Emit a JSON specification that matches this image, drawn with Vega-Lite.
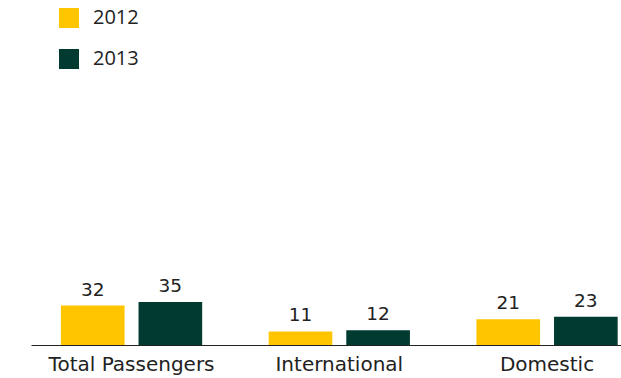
{
  "$schema": "https://vega.github.io/schema/vega-lite/v6.json",
  "width": 590,
  "height": 345,
  "autosize": {"type": "none"},
  "padding": {"left": 31, "top": 0, "right": 0, "bottom": 33},
  "background": "white",
  "config": {
    "view": {"stroke": null},
    "font": "DejaVu Sans"
  },
  "data": {
    "values": [
      {"category": "Total Passengers", "year": "2012", "value": 32},
      {"category": "Total Passengers", "year": "2013", "value": 35},
      {"category": "International", "year": "2012", "value": 11},
      {"category": "International", "year": "2013", "value": 12},
      {"category": "Domestic", "year": "2012", "value": 21},
      {"category": "Domestic", "year": "2013", "value": 23}
    ]
  },
  "encoding": {
    "x": {
      "field": "category",
      "type": "nominal",
      "sort": ["Total Passengers", "International", "Domestic"],
      "scale": {"paddingInner": 0.32, "paddingOuter": 0.08, "align": 0.9},
      "axis": {
        "title": null,
        "labelAngle": 0,
        "ticks": false,
        "domainColor": "#222222",
        "domainWidth": 1.2,
        "labelFontSize": 20,
        "labelColor": "#222222",
        "labelPadding": 9,
        "labelFont": "DejaVu Sans"
      }
    },
    "xOffset": {
      "field": "year",
      "type": "nominal",
      "scale": {"paddingInner": 0.18, "paddingOuter": 0}
    },
    "y": {
      "field": "value",
      "type": "quantitative",
      "scale": {"domain": [0, 280]},
      "axis": null
    }
  },
  "layer": [
    {
      "mark": {"type": "bar"},
      "encoding": {
        "color": {
          "field": "year",
          "type": "nominal",
          "scale": {"domain": ["2012", "2013"], "range": ["#FFC600", "#013A30"]},
          "legend": {
            "title": null,
            "orient": "none",
            "legendX": 28,
            "legendY": 8,
            "padding": 0,
            "symbolType": "square",
            "symbolSize": 400,
            "symbolStrokeWidth": 0,
            "labelFontSize": 20,
            "labelColor": "#222222",
            "labelOffset": 14,
            "rowPadding": 21,
            "labelFont": "Open Sans"
          }
        }
      }
    },
    {
      "mark": {"type": "text", "baseline": "alphabetic", "dy": -10, "fontSize": 18.5, "color": "#222222", "font": "DejaVu Sans"},
      "encoding": {
        "text": {"field": "value", "type": "quantitative"}
      }
    }
  ]
}
